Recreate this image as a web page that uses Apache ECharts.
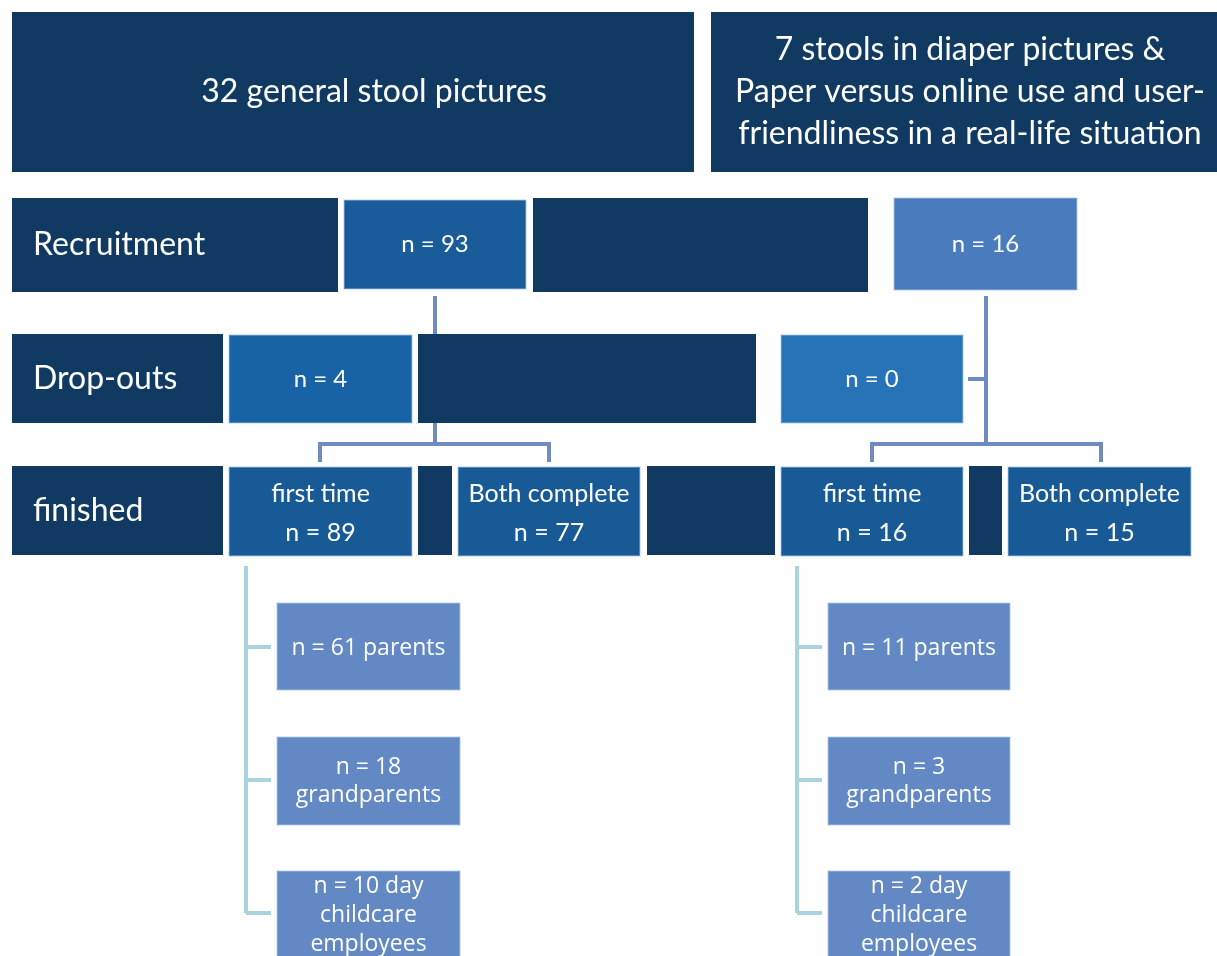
<!DOCTYPE html>
<html><head><meta charset="utf-8">
<script src="https://cdn.jsdelivr.net/npm/echarts@6/dist/echarts.min.js"></script>
<style>html,body{margin:0;padding:0;background:#fff}#c{width:1217px;height:956px}</style>
</head><body><div id="c"></div>
<script>
// ---- data ----
const headers = ['32 general stool pictures', '7 stools in diaper pictures &\nPaper versus online use and user-\nfriendliness in a real-life situation'];
const stages = ['Recruitment', 'Drop-outs', 'finished'];
const recruitment = [93, 16];
const dropouts = [4, 0];
const firstTime = [89, 16];
const bothComplete = [77, 15];
const parents = [61, 11];
const grandparents = [18, 3];
const childcare = [10, 2];

// ---- layout (positions/styles kept separate) ----
const C = {
  navy: '#103a62', recL: '#1a5c9a', recR: '#4a7cbd', dropL: '#1763a6', dropR: '#2673b7',
  fin: '#175a95', sub: '#6389c4', link: '#6f8bc0', link2: '#a9d4df'
};
const F1 = 'Lato, "Noto Sans", sans-serif';
const F2 = '"Open Sans", "Noto Sans", sans-serif';
const boxes = [];
function box(x0, y0, x1, y1, fill, text, opt) {
  boxes.push([x0, y0, x1, y1, fill, text || '', opt || {}]);
}
box(12, 12, 694, 172, C.navy, headers[0], {size: 32, font: F1, dx: 21});
box(711, 12, 1217, 172, C.navy, headers[1], {size: 32, font: F1, lh: 42, dx: 6});
// stage label bars
box(12, 198, 338, 292, C.navy, stages[0], {size: 32, font: F1, left: 33});
box(12, 334, 223, 423, C.navy, stages[1], {size: 32, font: F1, left: 33});
box(12, 466, 223, 555, C.navy, stages[2], {size: 32, font: F1, left: 33});
// recruitment row
box(344, 200, 526, 289, C.recL, 'n = ' + recruitment[0], {size: 24, font: F1, border: true});
box(533, 198, 868, 292, C.navy);
box(894, 198, 1077, 290, C.recR, 'n = ' + recruitment[1], {size: 24, font: F1, border: true});
// drop-outs row
box(229, 335, 412, 423, C.dropL, 'n = ' + dropouts[0], {size: 24, font: F1, border: true});
box(418, 334, 756, 423, C.navy);
box(781, 335, 963, 423, C.dropR, 'n = ' + dropouts[1], {size: 24, font: F1, border: true});
// finished row
box(229, 467, 412, 556, C.fin, 'first time\nn = ' + firstTime[0], {size: 25, font: F1, lh: 39, border: true, dy: 2});
box(418, 466, 452, 555, C.navy);
box(458, 467, 640, 556, C.fin, 'Both complete\nn = ' + bothComplete[0], {size: 25, font: F1, lh: 39, border: true, dy: 2});
box(647, 466, 775, 555, C.navy);
box(781, 467, 963, 556, C.fin, 'first time\nn = ' + firstTime[1], {size: 25, font: F1, lh: 39, border: true, dy: 2});
box(969, 466, 1002, 555, C.navy);
box(1008, 467, 1191, 556, C.fin, 'Both complete\nn = ' + bothComplete[1], {size: 25, font: F1, lh: 39, border: true, dy: 2});
// sub groups
[[277, 460], [828, 1010]].forEach(function (xs, i) {
  box(xs[0], 603, xs[1], 690, C.sub, 'n = ' + parents[i] + ' parents', {size: 23, font: F2, lh: 28, border: true, dy: 2});
  box(xs[0], 737, xs[1], 825, C.sub, 'n = ' + grandparents[i] + '\ngrandparents', {size: 23, font: F2, lh: 28, border: true});
  box(xs[0], 871, xs[1], 959, C.sub, 'n = ' + childcare[i] + ' day\nchildcare\nemployees', {size: 23, font: F2, lh: 29, border: true});
});

const links = [];
function link(pts, color) { links.push([pts, color]); }
[[435, 418, 320, 549], [986, 968, 872, 1101]].forEach(function (p) {
  link([[p[0], 296], [p[0], 444]], C.link);
  link([[p[1], 379], [p[0], 379]], C.link);
  link([[p[2], 462], [p[2], 444], [p[3], 444], [p[3], 462]], C.link);
});
[246, 797].forEach(function (x) {
  link([[x, 566], [x, 913]], C.link2);
  [647, 780, 913].forEach(function (y) { link([[x, y], [x + 25, y]], C.link2); });
});

const chart = echarts.init(document.getElementById('c'), null, {renderer: 'canvas'});
chart.setOption({
  animation: false,
  grid: {left: 0, right: 0, top: 0, bottom: 0},
  xAxis: {type: 'value', min: 0, max: 1217, show: false},
  yAxis: {type: 'value', min: 0, max: 956, inverse: true, show: false},
  series: [
    {
      type: 'custom', silent: true, clip: false,
      data: links.map(function (l, i) { return [l[0][0][0], l[0][0][1], i]; }),
      renderItem: function (params, api) {
        const l = links[api.value(2)];
        const pts = l[0].map(function (p) { return api.coord(p); });
        return {type: 'polyline', shape: {points: pts}, style: {stroke: l[1], lineWidth: 4, fill: null, lineJoin: 'miter', lineCap: 'butt'}};
      }
    },
    {
      type: 'custom', silent: true, clip: false,
      data: boxes.map(function (b, i) { return [b[0], b[1], b[2], b[3], i]; }),
      renderItem: function (params, api) {
        const b = boxes[api.value(4)];
        const p0 = api.coord([api.value(0), api.value(1)]);
        const p1 = api.coord([api.value(2), api.value(3)]);
        const o = b[6];
        const children = [{
          type: 'rect',
          shape: {x: p0[0], y: p0[1], width: p1[0] - p0[0], height: p1[1] - p0[1]},
          style: {fill: b[4], stroke: o.border ? 'rgba(170,200,235,0.55)' : null, lineWidth: o.border ? 1.5 : 0}
        }];
        if (b[5]) {
          const left = o.left != null;
          children.push({
            type: 'text',
            x: left ? api.coord([o.left, 0])[0] : (p0[0] + p1[0]) / 2 + (o.dx || 0),
            y: (p0[1] + p1[1]) / 2 + (o.dy || 0),
            style: {
              text: b[5], fill: '#ffffff',
              font: o.size + 'px ' + o.font,
              lineHeight: o.lh || Math.round(o.size * 1.3),
              align: left ? 'left' : 'center', verticalAlign: 'middle'
            }
          });
        }
        return {type: 'group', children: children};
      }
    }
  ]
});
</script></body></html>
